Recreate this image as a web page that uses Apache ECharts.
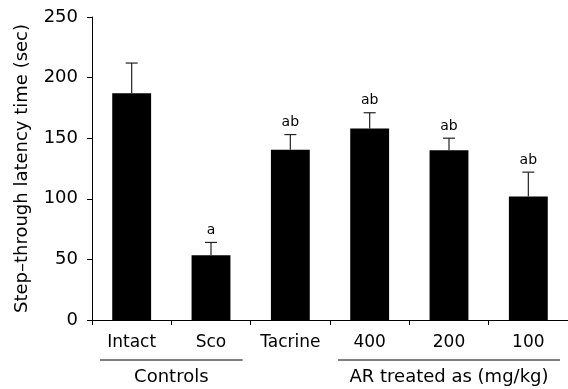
<!DOCTYPE html>
<html><head><meta charset="utf-8">
<script src="https://cdn.jsdelivr.net/npm/echarts@6/dist/echarts.min.js"></script>
<style>html,body{margin:0;padding:0;background:#fff}#c{width:568px;height:389px}</style>
</head><body><div id="c"></div>
<script>
var categories = ['Intact', 'Sco', 'Tacrine', '400', '200', '100'];
var means = [187, 53.5, 140.5, 158, 140, 102];
var errors = [25, 10.5, 12.5, 13, 10, 20];
var letters = ['', 'a', 'ab', 'ab', 'ab', 'ab'];
var yTicks = [0, 50, 100, 150, 200, 250];
var groups = [
  {name: 'Controls', from: 0, to: 1},
  {name: 'AR treated as (mg/kg)', from: 3, to: 5}
];
var FONT = '"DejaVu Sans", Arial, sans-serif';

var chart = echarts.init(document.getElementById('c'), null, {renderer: 'canvas'});
var errData = means.map(function (m, i) { return [i, m, m + errors[i], letters[i]]; });

chart.setOption({
  animation: false,
  grid: {left: 92, right: 0, top: 17, bottom: 69},
  xAxis: {
    type: 'category', data: categories, boundaryGap: true,
    axisLine: {lineStyle: {color: '#000', width: 1}},
    axisTick: {show: true, interval: 0, length: 5, lineStyle: {color: '#000'}},
    axisLabel: {color: '#000', fontSize: 17, fontFamily: FONT, margin: 14, interval: 0, hideOverlap: false}
  },
  yAxis: {
    type: 'value', min: yTicks[0], max: yTicks[yTicks.length - 1], interval: 50,
    name: 'Step\u2013through latency time (sec)', nameLocation: 'middle', nameGap: 61,
    nameTextStyle: {color: '#000', fontSize: 18, fontFamily: FONT},
    axisLine: {show: true, lineStyle: {color: '#000', width: 1}},
    axisTick: {show: true, length: 5, lineStyle: {color: '#000'}},
    axisLabel: {color: '#000', fontSize: 18, fontFamily: FONT, margin: 14},
    splitLine: {show: false}
  },
  series: [
    {type: 'bar', data: means, barWidth: '49%', itemStyle: {color: '#000'}, z: 2},
    {
      type: 'custom', data: errData, z: 3,
      renderItem: function (params, api) {
        var x = api.value(0);
        var base = api.coord([x, api.value(1)]);
        var top = api.coord([x, api.value(2)]);
        var half = 6;
        var children = [
          {type: 'line', shape: {x1: base[0], y1: base[1], x2: top[0], y2: top[1]}, style: {stroke: '#222', lineWidth: 1.2}},
          {type: 'line', shape: {x1: top[0] - half, y1: top[1], x2: top[0] + half, y2: top[1]}, style: {stroke: '#222', lineWidth: 1.2}}
        ];
        var lab = letters[params.dataIndex];
        if (lab) {
          children.push({type: 'text', style: {text: lab, x: top[0], y: top[1] - 5, textAlign: 'center', textVerticalAlign: 'bottom', fill: '#000', font: '14px ' + FONT}});
        }
        return {type: 'group', children: children};
      }
    }
  ]
});

var gfx = [];
groups.forEach(function (g) {
  var a = chart.convertToPixel({xAxisIndex: 0}, g.from);
  var b = chart.convertToPixel({xAxisIndex: 0}, g.to);
  var bw = (chart.convertToPixel({xAxisIndex: 0}, 1) - chart.convertToPixel({xAxisIndex: 0}, 0));
  var x1 = a - bw * 0.4, x2 = b + bw * 0.4;
  gfx.push({type: 'line', shape: {x1: x1, y1: 360, x2: x2, y2: 360}, style: {stroke: '#000', lineWidth: 1}});
  gfx.push({type: 'text', x: (x1 + x2) / 2, y: 377, style: {text: g.name, textAlign: 'center', textVerticalAlign: 'middle', fill: '#000', font: '18px ' + FONT}});
});
chart.setOption({graphic: gfx});
</script></body></html>
